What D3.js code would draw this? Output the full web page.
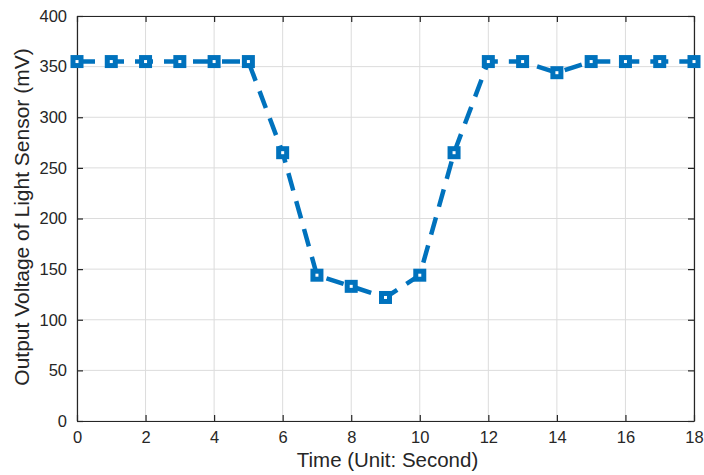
<!DOCTYPE html>
<meta charset="utf-8">
<style>

body {
  margin: 0;
  background: #fff;
}

text {
  font-family: "Liberation Sans", Arial, sans-serif;
}

</style>
<body>
<script src="https://cdn.jsdelivr.net/npm/d3@7"></script>
<script>

var width = 704,
    height = 475;

var margin = {top: 16, right: 10, bottom: 54, left: 77};

var times = [0, 1, 2, 3, 4, 5, 6, 7, 8, 9, 10, 11, 12, 13, 14, 15, 16, 17, 18];
var voltages = [355, 355, 355, 355, 355, 355, 265, 144, 133, 122, 144, 265, 355, 355, 344, 355, 355, 355, 355];
var xTicks = [0, 2, 4, 6, 8, 10, 12, 14, 16, 18];
var yTicks = [0, 50, 100, 150, 200, 250, 300, 350, 400];

var color = "#0072bd";

var svg = d3.select("body").append("svg")
    .attr("width", width)
    .attr("height", height);

var x = d3.scaleLinear()
    .domain([0, 18])
    .range([margin.left, width - margin.right]);

var y = d3.scaleLinear()
    .domain([0, 400])
    .range([height - margin.bottom, margin.top]);

// grid
svg.append("g")
    .selectAll("line")
    .data(xTicks)
  .enter().append("line")
    .attr("x1", x).attr("x2", x)
    .attr("y1", y(0)).attr("y2", y(400))
    .attr("stroke", "#dcdcdc");

svg.append("g")
    .selectAll("line")
    .data(yTicks)
  .enter().append("line")
    .attr("y1", y).attr("y2", y)
    .attr("x1", x(0)).attr("x2", x(18))
    .attr("stroke", "#dcdcdc");

// axes
svg.append("g")
    .attr("transform", "translate(0," + y(0) + ")")
    .call(d3.axisBottom(x).tickValues(xTicks).tickSize(-6).tickPadding(10).tickSizeOuter(0));

svg.append("g")
    .attr("transform", "translate(0," + y(400) + ")")
    .call(d3.axisTop(x).tickValues(xTicks).tickSize(-6).tickFormat("").tickSizeOuter(0));

svg.append("g")
    .attr("transform", "translate(" + x(0) + ",0)")
    .call(d3.axisLeft(y).tickValues(yTicks).tickSize(-6).tickPadding(10).tickSizeOuter(0));

svg.append("g")
    .attr("transform", "translate(" + x(18) + ",0)")
    .call(d3.axisRight(y).tickValues(yTicks).tickSize(-6).tickFormat("").tickSizeOuter(0));

svg.selectAll(".domain, .tick line")
    .attr("stroke", "#262626")
    .attr("stroke-width", 1.2);

svg.selectAll(".tick text")
    .attr("fill", "#262626")
    .attr("font-size", 16.5)
    .attr("font-family", "'Liberation Sans', Arial, sans-serif");

// line
var line = d3.line()
    .x(function(d, i) { return x(times[i]); })
    .y(function(d) { return y(d); });

svg.append("path")
    .datum(voltages)
    .attr("d", line)
    .attr("fill", "none")
    .attr("stroke", color)
    .attr("stroke-width", 4.5)
    .attr("stroke-dasharray", "18,11");

// markers
svg.append("g")
    .selectAll("rect")
    .data(voltages)
  .enter().append("rect")
    .attr("x", function(d, i) { return x(times[i]) - 4; })
    .attr("y", function(d) { return y(d) - 4; })
    .attr("width", 8)
    .attr("height", 8)
    .attr("fill", "#fff")
    .attr("stroke", color)
    .attr("stroke-width", 5);

// labels
svg.append("text")
    .attr("x", (x(0) + x(18)) / 2 + 2)
    .attr("y", 467)
    .attr("text-anchor", "middle")
    .attr("font-size", 20.5)
    .attr("fill", "#262626")
    .text("Time (Unit: Second)");

svg.append("text")
    .attr("transform", "translate(29,217) rotate(-90)")
    .attr("text-anchor", "middle")
    .attr("font-size", 21)
    .attr("fill", "#262626")
    .text("Output Voltage of Light Sensor (mV)");

</script>
